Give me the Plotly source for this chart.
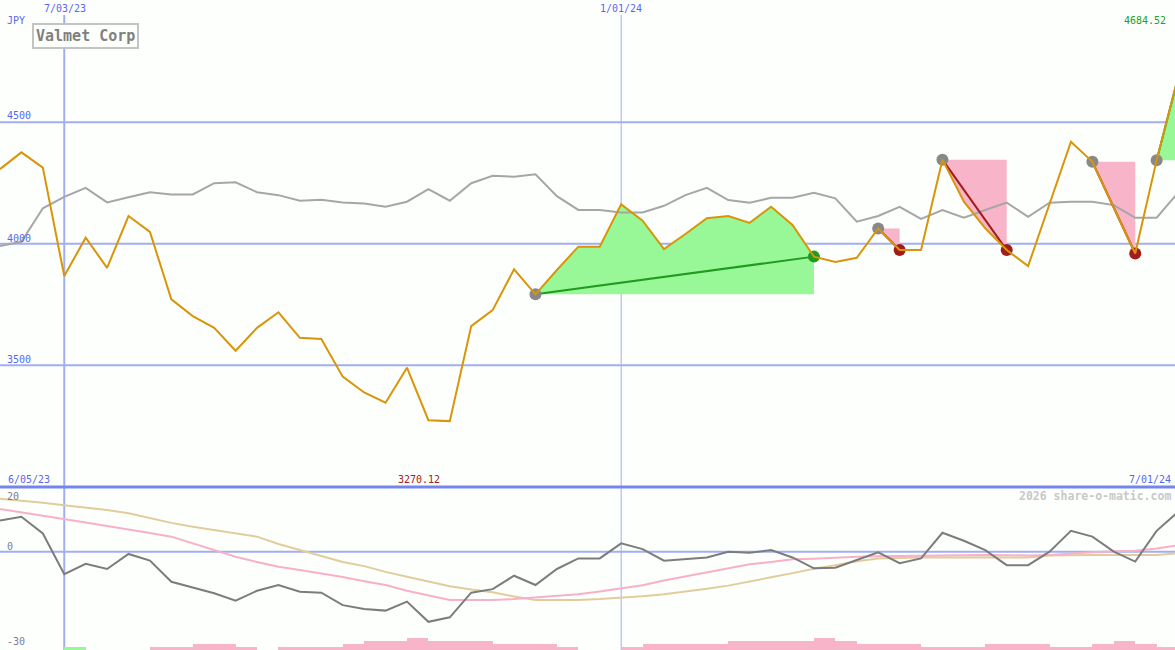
import plotly.graph_objects as go

# ---------------- data ----------------
dates = [
    "2023-06-12", "2023-06-19", "2023-06-26", "2023-07-03", "2023-07-10", "2023-07-17",
    "2023-07-24", "2023-07-31", "2023-08-07", "2023-08-14", "2023-08-21", "2023-08-28",
    "2023-09-04", "2023-09-11", "2023-09-18", "2023-09-25", "2023-10-02", "2023-10-09",
    "2023-10-16", "2023-10-23", "2023-10-30", "2023-11-06", "2023-11-13", "2023-11-20",
    "2023-11-27", "2023-12-04", "2023-12-11", "2023-12-18", "2023-12-25", "2024-01-01",
    "2024-01-08", "2024-01-15", "2024-01-22", "2024-01-29", "2024-02-05", "2024-02-12",
    "2024-02-19", "2024-02-26", "2024-03-04", "2024-03-11", "2024-03-18", "2024-03-25",
    "2024-04-01", "2024-04-08", "2024-04-15", "2024-04-22", "2024-04-29", "2024-05-06",
    "2024-05-13", "2024-05-20", "2024-05-27", "2024-06-03", "2024-06-10", "2024-06-17",
    "2024-06-24", "2024-07-01",
]

price = [
    4307, 4376, 4313, 3867, 4025, 3901, 4114, 4049, 3771, 3702,
    3654, 3560, 3654, 3718, 3613, 3608, 3453, 3388, 3346, 3490,
    3274, 3270.12, 3661, 3727, 3895, 3792, 3892, 3988, 3988, 4162,
    4095, 3978, 4040, 4105, 4114, 4086, 4152, 4077, 3947, 3925,
    3942, 4063, 3974, 3974, 4346, 4173, 4063, 3974, 3908, 4163,
    4420, 4337, 4152, 3960, 4344, 4684.52,
]

index_line = [
    3991, 4008, 4146, 4193, 4230, 4170, 4191, 4212, 4203, 4203,
    4249, 4253, 4212, 4200, 4177, 4181, 4170, 4166, 4152, 4173,
    4225, 4177, 4249, 4280, 4276, 4286, 4196, 4139, 4139, 4129,
    4129, 4156, 4200, 4230, 4180, 4169, 4189, 4189, 4210, 4187,
    4091, 4114, 4152, 4102, 4139, 4107, 4139, 4169, 4111, 4169,
    4173, 4173, 4159, 4107, 4107, 4210,
]

momentum = [
    9.7, 10.9, 5.7, -7.0, -3.8, -5.4, -0.7, -2.8, -9.4, -11.1,
    -13.0, -15.3, -12.2, -10.4, -12.5, -12.8, -16.7, -17.9, -18.4, -15.6,
    -21.9, -20.5, -12.8, -11.7, -7.5, -10.4, -5.4, -2.1, -2.1, 2.6,
    0.8, -2.8, -2.3, -1.8, 0.0, -0.3, 0.5, -1.8, -5.2, -5.0,
    -2.6, -0.2, -3.6, -2.1, 5.9, 3.4, 0.5, -4.2, -4.2, 0.0,
    6.5, 4.7, 0.0, -3.1, 6.5, 12.4,
]

avg_fast = [
    13.3, 12.3, 11.3, 10.2, 9.1, 8.0, 6.8, 5.8, 4.7, 2.6,
    0.5, -1.6, -3.2, -4.7, -5.7, -6.7, -7.9, -9.2, -10.4, -12.2,
    -13.7, -15.1, -15.1, -15.1, -14.8, -14.3, -13.8, -13.3, -12.4, -11.4,
    -10.5, -9.0, -7.7, -6.3, -5.0, -3.9, -3.2, -2.4, -2.2, -1.8,
    -1.6, -1.4, -1.3, -1.3, -1.3, -1.2, -1.0, -1.1, -1.2, -1.0,
    -0.5, -0.2, 0.1, 0.3, 1.0, 2.0,
]

avg_slow = [
    16.5, 16.0, 15.3, 14.5, 13.8, 13.0, 12.0, 10.4, 9.0, 7.8,
    6.7, 5.6, 4.7, 2.4, 0.5, -1.5, -3.2, -4.5, -6.3, -7.8,
    -9.4, -10.8, -11.8, -12.7, -14.0, -15.1, -15.1, -15.1, -14.8, -14.4,
    -13.9, -13.3, -12.5, -11.6, -10.6, -9.4, -8.0, -6.7, -5.3, -4.2,
    -3.0, -2.1, -1.9, -1.8, -1.8, -1.8, -1.8, -1.8, -1.8, -1.2,
    -1.0, -1.0, -1.0, -1.0, -1.0, -0.5,
]

bar_levels = [
    0, 0, 0, 1, 0, 0, 0, 1, 1, 2,
    2, 1, 0, 1, 1, 1, 2, 3, 3, 4,
    3, 3, 3, 2, 2, 2, 1, 0, 0, 1,
    2, 2, 2, 2, 3, 3, 3, 3, 4, 3,
    2, 2, 2, 1, 1, 1, 2, 2, 2, 1,
    1, 2, 3, 2, 1, 0,
]
bar_up = [3]  # week indices drawn green

trade_start = [25, 41, 44, 51, 54]
trade_end = [38, 42, 47, 53, 55]
trade_open = [False, False, False, False, True]

price_ticks = [4500, 4000, 3500]
title = "Valmet Corp"

# ---------------- styling ----------------
W, H = 1175, 650
BG = "#fdfffd"
GRID = "#a2aef0"
SEP = "#7486ee"
LBL = "#5868ee"
FONT = "DejaVu Sans Mono"
split = 1 - 487 / H

ORANGE = "#d8950a"
GREEN_FILL = "#98f898"
PINK_FILL = "#f8b4c8"
DGREEN = "#209a20"
DRED = "#a21c1c"
GRAYDOT = "#888888"


def py(y):
    return 1 - y / H


def px(x):
    return x / W


fig = go.Figure()

# trade fills
for s, e, op in zip(trade_start, trade_end, trade_open):
    gain = price[e] > price[s]
    xs = dates[s:e + 1] + [dates[e], dates[s]]
    ys = price[s:e + 1] + [price[s], price[s]]
    fig.add_trace(go.Scatter(
        x=xs, y=ys, mode="lines", fill="toself",
        fillcolor=GREEN_FILL if gain else PINK_FILL,
        line=dict(width=0), hoverinfo="skip", showlegend=False,
        xaxis="x", yaxis="y"))

# comparison index line
fig.add_trace(go.Scatter(x=dates, y=index_line, mode="lines",
                         line=dict(color="#a6a6a6", width=2),
                         showlegend=False, xaxis="x", yaxis="y"))

# trade lines
for s, e, op in zip(trade_start, trade_end, trade_open):
    gain = price[e] > price[s]
    fig.add_trace(go.Scatter(
        x=[dates[s], dates[e]], y=[price[s], price[e]], mode="lines",
        line=dict(color=DGREEN if gain else DRED, width=2),
        showlegend=False, xaxis="x", yaxis="y"))

# trade markers
fig.add_trace(go.Scatter(
    x=[dates[s] for s in trade_start], y=[price[s] for s in trade_start],
    mode="markers", marker=dict(size=12, color=GRAYDOT),
    showlegend=False, xaxis="x", yaxis="y"))
end_x, end_y, end_c = [], [], []
for s, e, op in zip(trade_start, trade_end, trade_open):
    if op:
        continue
    end_x.append(dates[e])
    end_y.append(price[e])
    end_c.append(DGREEN if price[e] > price[s] else DRED)
fig.add_trace(go.Scatter(x=end_x, y=end_y, mode="markers",
                         marker=dict(size=12, color=end_c),
                         showlegend=False, xaxis="x", yaxis="y"))

# price line
fig.add_trace(go.Scatter(x=dates, y=price, mode="lines",
                         line=dict(color=ORANGE, width=2),
                         showlegend=False, xaxis="x", yaxis="y"))

# lower panel bars
fig.add_trace(go.Bar(
    x=dates, y=bar_levels, offset=0, width=[7 * 86400000] * len(dates),
    marker=dict(color=[GREEN_FILL if i in bar_up else PINK_FILL for i in range(len(dates))],
                line=dict(width=0)),
    showlegend=False, xaxis="x", yaxis="y3"))

# lower panel lines
fig.add_trace(go.Scatter(x=dates, y=avg_slow, mode="lines",
                         line=dict(color="#e2cc9c", width=2),
                         showlegend=False, xaxis="x", yaxis="y2"))
fig.add_trace(go.Scatter(x=dates, y=avg_fast, mode="lines",
                         line=dict(color="#f8b0c8", width=2),
                         showlegend=False, xaxis="x", yaxis="y2"))
fig.add_trace(go.Scatter(x=dates, y=momentum, mode="lines",
                         line=dict(color="#7c7c7c", width=2),
                         showlegend=False, xaxis="x", yaxis="y2"))

shapes = []
for t in price_ticks:
    shapes.append(dict(type="line", xref="paper", yref="y", x0=0, x1=1, y0=t, y1=t,
                       line=dict(color=GRID, width=2), layer="below"))
shapes.append(dict(type="line", xref="paper", yref="y2", x0=0, x1=1, y0=0, y1=0,
                   line=dict(color=GRID, width=2), layer="below"))
shapes.append(dict(type="line", xref="x", yref="paper", x0="2023-07-03", x1="2023-07-03",
                   y0=0, y1=py(15), line=dict(color=GRID, width=2), layer="below"))
shapes.append(dict(type="line", xref="x", yref="paper", x0="2024-01-01", x1="2024-01-01",
                   y0=0, y1=py(15), line=dict(color=GRID, width=1), layer="below"))
shapes.append(dict(type="line", xref="paper", yref="paper", x0=0, x1=1, y0=split, y1=split,
                   line=dict(color=SEP, width=3), layer="above"))


def ann(text, x, y, anchor="left", color=LBL, size=10, **kw):
    return dict(text=text, x=px(x), y=py(y), xref="paper", yref="paper",
                xanchor=anchor, yanchor="middle", showarrow=False,
                font=dict(family=FONT, size=size, color=color), **kw)


annotations = [
    ann("7/03/23", 65, 8, "center"),
    ann("1/01/24", 621, 8, "center"),
    ann("JPY", 5, 21),
    ann(str(price_ticks[0]), 5, 116),
    ann(str(price_ticks[1]), 5, 238),
    ann(str(price_ticks[2]), 5, 359),
    ann(f"{max(price):.2f}", 1168, 21, "right", color="#20a020"),
    ann("6/05/23", 6, 479),
    ann(f"{min(price):.2f}", 419, 479, "center", color="#a02020"),
    ann("7/01/24", 1173, 479, "right"),
    ann("<b>2026 share-o-matic.com</b>", 1173, 496, "right", color="#c8c8c8", size=11.5),
    ann("20", 5, 496, color="#7c7c90"),
    ann("0", 5, 546, color="#7c7c90"),
    ann("-30", 5, 641, color="#7c7c90"),
    ann("<b>" + title + "</b>", 85.5, 36, "center", color="#808080", size=15,
        bordercolor="#c4c4c4", borderwidth=2, borderpad=2, bgcolor=BG),
]

fig.update_layout(
    width=W, height=H, margin=dict(l=0, r=0, t=0, b=0),
    paper_bgcolor=BG, plot_bgcolor=BG,
    showlegend=False, bargap=0,
    xaxis=dict(type="date", range=["2023-06-12", "2024-06-30"], visible=False,
               domain=[0, 1], anchor="y2"),
    yaxis=dict(range=[2999, 5003], domain=[split, 1], visible=False, anchor="x"),
    yaxis2=dict(range=[-30.7, 20.2], domain=[0, split], visible=False, anchor="x"),
    yaxis3=dict(range=[0, 52.5], overlaying="y2", visible=False, anchor="x"),
    shapes=shapes, annotations=annotations,
)

fig.write_html(
    "out.html",
    config={"displayModeBar": False},
    post_script="document.body.style.margin='0';document.body.style.overflow='hidden';",
)
